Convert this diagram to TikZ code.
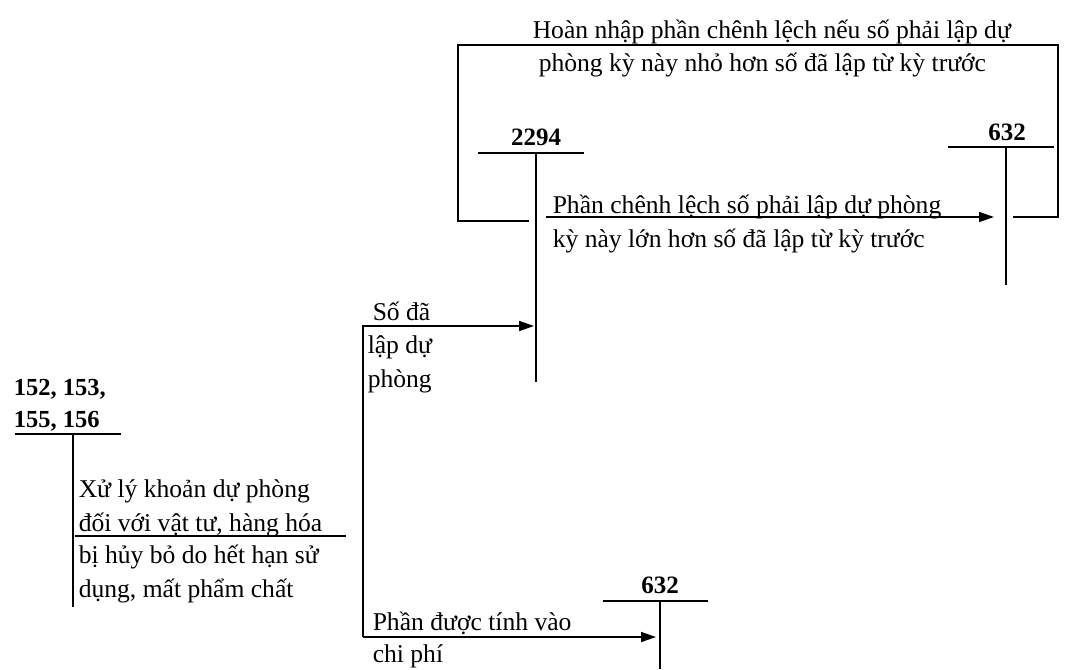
\documentclass[tikz,border=0pt]{standalone}
\usepackage{fontspec}
\setmainfont{Liberation Serif}
\usetikzlibrary{arrows.meta}
\begin{document}
\begin{tikzpicture}[x=1pt,y=-1pt,line width=1.5pt,
  txt/.style={anchor=base west,inner sep=0pt,font=\fontsize{25.6}{30}\selectfont},
  acc/.style={anchor=base,inner sep=0pt,font=\fontsize{25}{30}\selectfont\bfseries},
  accl/.style={anchor=base west,inner sep=0pt,font=\fontsize{24.5}{30}\selectfont\bfseries},
  tline/.style={line width=1.7pt},
  arr/.style={-{Triangle[length=15pt,width=10pt]}}]
\useasboundingbox (0,0) rectangle (1067,669);
% ---- T-accounts
% 2294
\node[acc] (a2294) at (536,145) {2294};
\coordinate (h2294l) at (478,153);
\coordinate (h2294r) at (584,153);
\coordinate (v2294t) at (536,153);
\coordinate (v2294b) at (536,382);
\draw[tline] (h2294l) -- (h2294r) (v2294t) -- (v2294b);
% 632 top
\node[acc] (a632t) at (1007,140) {632};
\coordinate (h632tl) at (948,147);
\coordinate (h632tr) at (1054,147);
\coordinate (v632tt) at (1006,147);
\coordinate (v632tb) at (1006,285);
\draw[tline] (h632tl) -- (h632tr) (v632tt) -- (v632tb);
% 152...
\node[accl] (a152a) at (13,395) {152, 153,};
\node[accl] (a152b) at (13,427) {155, 156};
\coordinate (h152l) at (15,434);
\coordinate (h152r) at (121,434);
\coordinate (v152t) at (73,434);
\coordinate (v152b) at (73,607);
\draw[tline] (h152l) -- (h152r) (v152t) -- (v152b);
% 632 bottom
\node[acc] (a632b) at (660,593) {632};
\coordinate (h632bl) at (603,601);
\coordinate (h632br) at (708,601);
\coordinate (v632bt) at (660,601);
\coordinate (v632bb) at (660,669);
\draw[tline] (h632bl) -- (h632br) (v632bt) -- (v632bb);
% ---- top loop (Hoan nhap)
\node[txt] (hn1) at (532,38) {Hoàn nhập phần chênh lệch nếu số phải lập dự};
\node[txt] (hn2) at (538,71) {phòng kỳ này nhỏ hơn số đã lập từ kỳ trước};
\coordinate (loopS) at (1013,217);
\coordinate (loopR) at (1058,45);
\coordinate (loopL) at (458,45);
\coordinate (loopE) at (529,221);
\draw (loopS) -| (loopR) -- (loopL) |- (loopE);
% ---- arrow 2294 -> 632
\node[txt] (pc1) at (552,213) {Phần chênh lệch số phải lập dự phòng};
\node[txt] (pc2) at (552,247) {kỳ này lớn hơn số đã lập từ kỳ trước};
\coordinate (pcS) at (546,217);
\coordinate (pcE) at (994,217);
\draw[arr] (pcS) -- (pcE);
% ---- left explanation
\node[txt] (x1) at (78,497) {Xử lý khoản dự phòng};
\node[txt] (x2) at (78,531) {đối với vật tư, hàng hóa};
\node[txt] (x3) at (78,563) {bị hủy bỏ do hết hạn sử};
\node[txt] (x4) at (78,597) {dụng, mất phẩm chất};
\coordinate (xl) at (75,536);
\coordinate (xr) at (346,536);
\draw (xl) -- (xr);
% ---- split
\coordinate (sT) at (363,326);
\coordinate (sB) at (363,637);
\coordinate (sE1) at (534,326);
\coordinate (sE2) at (656,637);
\draw[arr] (sB) -- (sT) -- (sE1);
\draw[arr] (sB) -- (sE2);
\node[txt] (sd1) at (372,320) {Số đã};
\node[txt] (sd2) at (367,353) {lập dự};
\node[txt] (sd3) at (367,387) {phòng};
\node[txt] (pd1) at (372,630) {Phần được tính vào};
\node[txt] (pd2) at (372,662) {chi phí};
\end{tikzpicture}
\end{document}
